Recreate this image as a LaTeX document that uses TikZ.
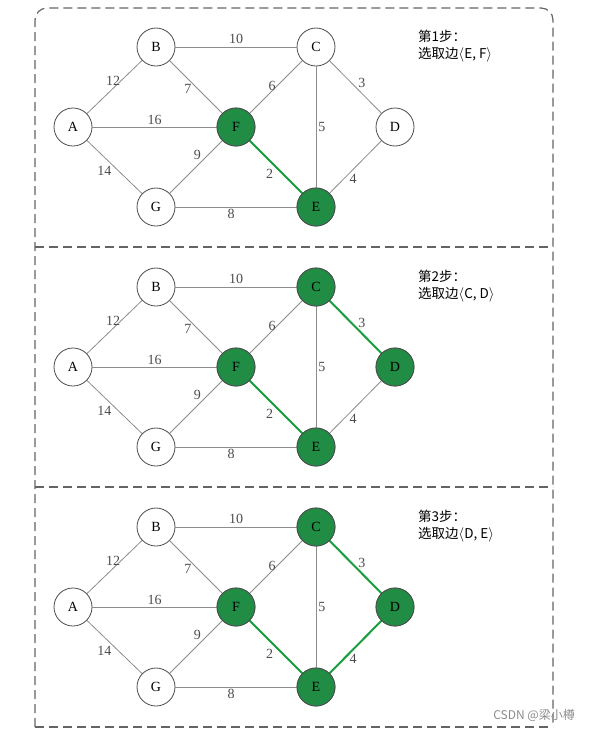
\documentclass[tikz,border=0pt]{standalone}
\usepackage{fontspec}
\setmainfont{Liberation Serif}
\newfontfamily\cjk{Noto Sans CJK SC}
\usepackage{xcolor}
\usetikzlibrary{positioning}
\definecolor{primgreen}{RGB}{32,140,68}
\definecolor{edgegreen}{RGB}{24,158,60}
\definecolor{framegray}{RGB}{100,100,100}

\begin{document}
\begin{tikzpicture}[x=1pt,y=-1pt,font=\fontsize{14}{16}\selectfont,
  vtx/.style={draw=black!70,circle,line width=0.8pt,minimum size=38pt,inner sep=0pt,fill=white},
  done/.style={vtx,fill=primgreen},
  edge/.style={draw=black!45,line width=0.8pt},
  picked/.style={draw=edgegreen,line width=2pt},
  wt/.style={font=\fontsize{14}{16}\selectfont,text=black!70,inner sep=2pt},
  frame/.style={draw=framegray,line width=1.2pt,dash pattern=on 9pt off 5pt},
  steptext/.style={align=left,anchor=north west,font=\cjk\fontsize{13.5}{17}\selectfont,inner sep=0pt}]
\useasboundingbox (0,0) rectangle (589,729);
% frame
\draw[frame,rounded corners=12pt] (35,727) -- (35,8) -- (553,8) -- (553,727);
\draw[frame] (35,247) -- (553,247);
\draw[frame] (35,487) -- (553,487);
\draw[frame] (35,727) -- (553,727);
% three steps
\foreach \p/\dy/\edges/\greens/\pick in {1/0/{E/F}/{E,F}/{E, F},
    2/240/{E/F,C/D}/{E,F,C,D}/{C, D},
    3/480/{E/F,C/D,D/E}/{E,F,C,D}/{D, E}}{
  \begin{scope}[yshift=-\dy]
  \node[vtx] (A\p) at (73,127) {A};
  \node[vtx] (B\p) at (156,47) {B};
  \node[vtx] (C\p) at (316,47) {C};
  \node[vtx] (D\p) at (395,127) {D};
  \node[vtx] (E\p) at (316,207) {E};
  \node[vtx] (F\p) at (236,127) {F};
  \node[vtx] (G\p) at (156,207) {G};
  \draw[edge] (B\p) -- node[wt,above,yshift=1pt] {10} (C\p);
  \draw[edge] (A\p) -- node[wt,above left,pos=0.5,xshift=8pt,yshift=-1pt] {12} (B\p);
  \draw[edge] (B\p) -- node[wt,below left,pos=0.4,xshift=3pt] {7} (F\p);
  \draw[edge] (F\p) -- node[wt,above left,pos=0.5,xshift=2pt,yshift=-6pt] {6} (C\p);
  \draw[edge] (C\p) -- node[wt,above right,pos=0.55,xshift=-2pt] {3} (D\p);
  \draw[edge] (A\p) -- node[wt,above] {16} (F\p);
  \draw[edge] (C\p) -- node[wt,right] {5} (E\p);
  \draw[edge] (G\p) -- node[wt,above left,pos=0.6,xshift=2pt] {9} (F\p);
  \draw[edge] (F\p) -- node[wt,left,pos=0.55,xshift=-3pt,yshift=-4pt] {2} (E\p);
  \draw[edge] (A\p) -- node[wt,below left,pos=0.45,xshift=2pt] {14} (G\p);
  \draw[edge] (E\p) -- node[wt,below right,pos=0.4,xshift=-3pt] {4} (D\p);
  \draw[edge] (G\p) -- node[wt,below,xshift=-5pt] {8} (E\p);
  \foreach \u/\v in \edges { \draw[picked] (\u\p) -- (\v\p); }
  \foreach \n in \greens { \node[done] at (\n\p) {\n}; }
  \node[steptext] (step\p) at (418,30) {第\p 步：\\选取边$\langle$\pick$\rangle$};
  \end{scope}
}
\node[anchor=south east,font=\cjk\fontsize{12}{14}\selectfont,text=black!45,inner sep=0pt] (mark) at (575,722) {CSDN @梁小樽};
\end{tikzpicture}
\end{document}
